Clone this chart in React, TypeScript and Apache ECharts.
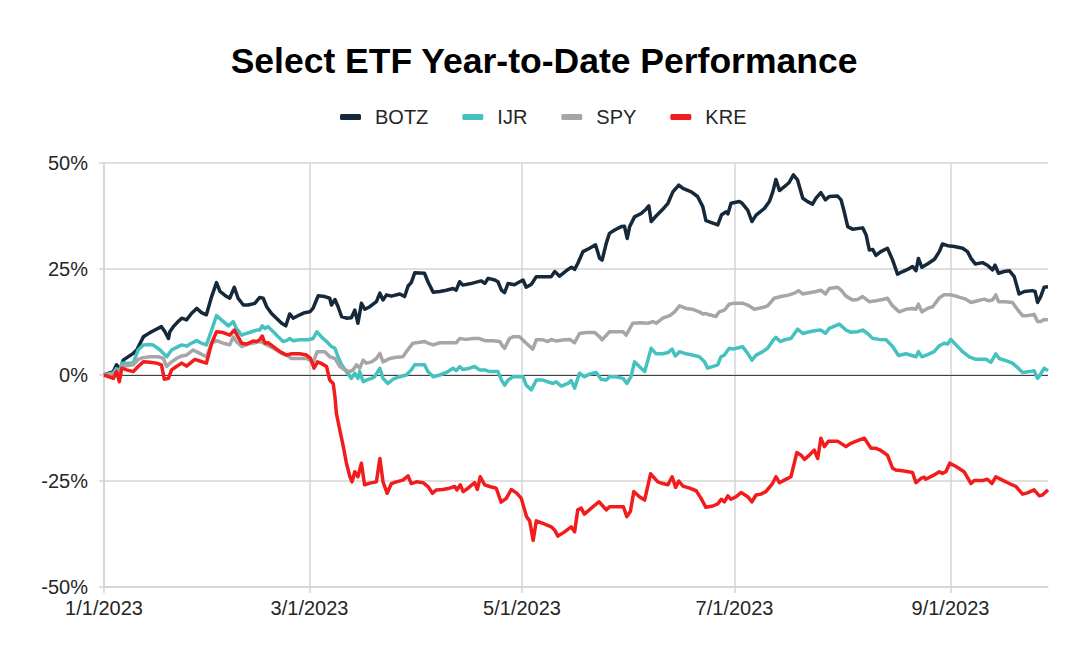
import React, { useEffect, useRef } from "react";
import * as echarts from "echarts";

// Days since 1/1/2023 for each reading, and year-to-date performance (%)
const botzDays = [0,2.7,3.6,4.6,5.5,8.4,9.4,11.3,13.2,14.6,16.5,17.5,18.5,18.9,19.9,21.3,22.3,23.7,25.1,26.6,28.0,29.4,30.9,32.3,33.3,35.2,36.1,37.4,38.5,40.0,41.4,43.3,44.7,45.7,46.7,48.1,49.5,51.0,52.2,53.3,54.3,56.2,57.6,59.1,60.0,61.5,63.4,64.8,65.3,66.3,67.2,68.2,69.6,71.0,72.0,72.9,73.9,74.9,76.3,78.2,79.2,80.1,81.1,82.5,84.9,86.3,87.3,88.2,89.2,92.0,93.0,94.5,96.4,98.3,100.2,101.1,102.1,103.0,105.0,106.9,108.3,109.3,110.3,112.2,113.1,114.1,115.0,116.0,117.8,120.3,121.2,122.7,124.1,128.4,129.4,130.8,133.2,134.2,135.1,136.0,137.5,139.4,141.1,142.3,143.0,144.2,145.1,146.6,148.5,149.4,150.2,150.9,152.3,154.2,155.6,156.4,157.1,158.5,160.2,161.9,163.3,165.0,166.2,168.6,170.4,171.9,172.8,174.8,176.2,177.3,178.6,179.1,180.0,182.4,183.2,184.8,186.0,187.2,189.6,191.0,192.0,192.9,193.9,195.3,196.7,197.9,199.1,200.6,202.0,203.4,204.4,205.8,207.1,208.2,210.6,211.6,212.5,213.5,214.9,217.8,218.8,219.7,220.7,221.6,223.0,224.9,226.4,227.8,229.3,230.7,232.1,233.1,233.8,234.8,236.6,238.4,239.8,240.7,242.2,244.1,246.5,247.9,248.9,250.1,252.2,253.6,255.1,255.8,256.8,258.4,259.9,261.3,262.7,264.2,266.5,267.3,268.0,268.9,269.9,271];
const botzPct = [0,0.8,2.4,1.2,3.5,5.1,5.9,9.0,10.0,10.6,11.4,10.2,8.6,10.2,11.4,12.6,13.4,13.0,14.5,15.7,14.7,14.2,18.5,21.8,19.7,18.5,18.1,20.7,18.1,16.5,16.5,16.9,18.3,18.1,16.1,14.5,13.4,12.2,11.6,14.4,13.4,14.2,14.7,14.9,15.7,18.7,18.5,18.1,16.5,17.8,16.1,13.8,13.4,13.5,15.3,12.2,16.9,15.5,16.1,17.3,19.3,17.7,18.9,18.6,19.1,18.5,21.0,21.8,24.1,24.0,22.0,19.5,19.7,20.0,20.4,20.0,22.0,21.2,21.5,21.9,22.2,21.6,22.8,22.4,22.0,20.0,19.4,21.6,21.3,22.4,20.7,21.4,23.2,23.2,24.4,23.3,24.9,25.4,24.9,26.3,29.1,29.9,30.7,27.5,27.1,31.1,33.4,34.2,35.0,35.1,32.2,35.0,37.3,38.1,39.1,39.9,36.2,37.5,38.9,40.5,43.2,44.8,44.0,43.2,42.1,39.7,36.4,35.8,35.4,37.8,38.5,38.0,40.5,40.9,40.5,38.9,36.2,37.7,39.3,40.9,43.2,46.1,43.5,44.4,45.4,47.2,46.0,41.7,40.9,40.3,41.7,43.0,41.3,42.1,42.2,41.3,38.5,35.0,34.4,34.7,33.0,29.5,29.6,28.2,29.1,29.9,27.1,23.8,24.4,24.9,25.6,24.6,27.5,25.4,26.3,27.3,29.1,30.9,30.5,30.3,29.9,29.1,27.5,26.2,26.5,25.9,24.8,25.9,24.0,24.4,24.6,23.2,19.1,19.7,19.9,19.7,17.1,18.5,20.7,20.8];

const ijrDays = [0,2.7,3.6,4.6,5.1,8.4,9.8,11.3,13.2,14.1,16.1,18.0,19.4,21.3,22.3,23.7,24.7,26.6,28.0,29.4,30.9,32.3,33.7,35.7,37.1,38.0,39.5,40.9,42.4,43.8,44.7,45.4,46.2,47.1,48.6,50.0,51.4,52.4,53.3,54.3,56.2,58.6,60.0,61.1,62.4,63.9,65.3,66.3,67.2,68.2,69.6,71.0,72.0,72.9,73.4,74.4,75.3,76.8,77.7,79.2,80.1,81.5,83.0,84.9,86.8,88.2,89.2,92.0,93.0,94.5,96.4,98.3,100.2,101.1,102.1,103.0,105.0,106.4,107.8,109.3,110.7,113.1,114.1,115.0,116.0,117.4,120.3,121.2,122.7,124.1,126.0,127.4,128.9,129.8,131.3,133.2,134.1,135.1,136.5,137.9,139.4,141.3,142.7,144.2,145.1,147.0,149.0,150.1,151.3,152.3,154.2,155.2,157.1,158.5,160.4,161.9,163.1,164.0,165.2,167.1,169.0,170.9,172.4,173.3,176.2,177.1,178.1,179.5,180.6,182.4,183.3,184.8,186.0,187.2,189.1,190.5,192.0,192.9,194.1,195.8,197.2,199.1,200.6,202.5,204.4,205.8,207.1,208.2,211.1,213.0,214.4,216.3,217.8,219.2,220.7,222.6,224.5,226.4,228.1,230.2,233.1,233.8,234.8,236.9,238.3,239.8,241.2,242.2,243.1,244.6,246.5,248.4,250.3,253.2,254.6,256.0,257.0,258.9,260.8,262.2,263.7,265.6,267.0,268.0,268.9,269.9,271];
const ijrPct = [0,0.5,1.5,1.0,2.8,2.8,5.9,7.1,7.2,7.1,5.9,4.3,5.9,6.7,7.1,6.8,7.3,8.1,7.5,7.1,10.6,14.0,13.0,11.6,12.6,11.0,9.4,9.8,10.2,10.6,10.6,11.6,11.0,11.4,10.2,9.0,7.9,8.1,8.6,8.1,8.3,8.3,8.6,10.2,9.0,7.9,6.7,6.3,4.3,2.4,0.8,-0.8,0.4,-0.8,0.8,-1.6,-1.2,-0.8,-0.4,1.6,-0.8,-2.0,-1.0,-0.4,0,1.2,2.4,2.4,0.8,-0.4,0,0.6,1.6,1.0,2.0,1.3,1.6,2.0,1.2,1.2,0.8,0.8,-1.2,-2.4,-1.2,-0.4,-0.4,-2.4,-3.5,-1.2,-1.2,-1.6,-2.0,-1.6,-2.6,-2.0,-1.3,-3.1,0.4,-0.4,0.2,0.6,-1.0,-1.2,-0.4,-0.4,-0.8,-2.0,-0.4,3.1,1.6,0.8,6.3,5.0,5.0,5.3,6.1,4.5,5.5,5.0,4.7,4.3,3.1,1.6,2.4,4.3,4.7,6.3,6.1,6.5,6.7,5.1,3.5,4.7,5.5,6.3,8.1,8.9,7.9,8.4,8.6,10.8,9.8,10.2,10.5,10.6,9.8,11.0,12.0,10.6,10.1,10.2,10.6,9.8,8.6,8.4,8.3,6.7,4.6,5.0,4.3,5.5,4.3,5.0,5.5,6.9,7.5,7.3,8.4,7.1,5.5,4.3,3.7,3.7,3.0,5.0,3.9,3.4,2.8,1.8,0.6,0.8,1.0,-0.8,0.2,1.6,1.0];

const spyDays = [0,2.7,3.6,4.6,5.1,8.4,9.8,11.3,13.2,15.6,17.0,18.0,19.4,20.8,22.3,23.7,25.6,27.5,29.4,30.9,32.3,34.2,36.1,37.1,38.0,39.5,41.4,43.3,44.7,45.7,46.7,48.6,51.0,52.4,53.8,56.2,58.1,59.1,60.0,61.2,63.4,64.8,66.3,67.7,69.1,70.6,71.5,72.5,73.4,74.4,75.3,76.8,78.2,79.2,80.1,82.0,83.9,85.8,86.8,88.7,90.6,92.1,93.0,94.5,96.4,98.8,101.1,102.1,104.0,105.9,107.8,109.3,111.7,113.6,114.5,115.0,116.4,117.4,119.3,121.2,123.1,124.1,126.0,127.4,128.4,129.8,132.2,133.7,135.1,136.5,138.5,140.9,142.3,143.0,145.1,147.0,149.0,149.9,151.8,154.2,156.1,157.6,158.5,160.4,162.4,163.8,165.2,167.1,169.0,170.9,171.9,172.8,173.8,175.7,176.6,178.1,179.5,180.6,183.4,184.8,186.7,189.1,190.5,192.4,194.4,196.7,198.2,199.4,200.6,202.5,204.4,205.8,207.1,208.2,210.6,211.6,213.0,214.9,216.3,217.8,219.7,221.6,223.5,224.9,226.4,228.3,230.2,232.1,233.1,233.8,234.8,236.4,237.9,239.8,241.2,243.1,245.0,247.4,248.9,250.8,252.7,254.0,255.1,256.0,256.8,258.9,260.8,262.2,263.7,265.1,267.0,268.0,268.9,269.9,271];
const spyPct = [0,0.3,1.0,0.5,2.0,2.4,3.7,4.1,4.3,4.3,3.9,2.0,3.1,3.9,4.5,4.7,5.9,5.1,4.3,7.5,8.1,7.5,7.1,9.0,7.9,6.7,7.3,7.6,7.9,7.6,7.1,6.3,5.1,4.7,3.9,3.9,3.9,3.5,2.8,5.5,5.5,4.3,3.9,2.0,1.2,0.8,1.2,2.4,1.6,3.5,2.8,3.1,3.9,5.1,3.1,3.9,4.2,4.3,5.5,7.5,7.7,7.9,7.5,7.1,7.6,7.6,7.6,8.6,8.4,8.6,8.6,8.1,8.1,7.9,6.7,6.3,8.6,9.0,9.0,7.5,6.1,8.3,8.3,7.9,8.4,8.0,8.3,8.4,7.6,9.8,10.0,10.0,9.0,8.3,10.2,10.2,10.2,9.4,12.2,12.3,12.2,12.6,12.2,13.4,14.0,14.9,16.3,15.7,15.5,14.9,14.4,14.5,14.2,13.8,14.9,15.3,16.7,16.9,16.9,16.5,15.5,15.9,16.3,18.1,18.5,18.9,19.3,19.9,19.1,19.4,19.7,20.0,19.1,20.4,20.7,20.0,18.6,17.7,17.8,18.5,17.3,17.5,17.8,18.1,16.3,14.9,15.5,15.7,15.5,16.7,14.9,15.7,16.1,18.2,18.9,18.9,18.5,17.9,17.1,17.5,17.9,17.5,17.7,18.9,17.3,17.3,17.1,15.5,14.0,14.0,14.3,12.6,12.6,13.1,13.0];

const kreDays = [0,2.7,3.6,4.4,5.1,6.5,8.4,9.8,11.3,13.2,15.1,16.5,17.3,18.5,19.4,20.8,22.3,23.7,26.1,27.5,29.4,30.9,32.3,34.2,36.1,37.4,38.5,39.5,40.9,42.8,43.8,44.7,45.4,46.2,47.1,48.6,50.5,52.4,53.8,56.2,58.1,59.3,60.3,61.3,62.2,63.9,64.8,65.8,66.3,66.7,67.7,68.7,69.6,70.6,71.2,72.0,72.9,73.9,74.8,76.3,78.2,79.2,80.1,81.3,82.5,83.9,85.8,87.3,88.2,89.7,91.6,93.0,94.3,95.4,97.3,99.2,100.7,101.3,102.3,103.1,104.5,106.4,107.2,108.0,109.3,110.7,112.6,114.0,115.5,116.9,118.4,119.8,121.3,122.2,123.2,124.1,126.0,128.4,129.4,130.3,132.2,134.1,135.1,136.0,137.0,137.9,139.9,142.1,144.2,145.1,147.0,149.1,150.1,151.1,152.1,153.7,155.2,156.9,159.0,160.4,161.9,163.1,164.1,165.0,166.2,168.1,170.0,171.4,172.8,174.8,176.2,177.2,178.1,179.1,180.0,181.5,182.9,184.8,186.0,187.2,188.6,190.0,191.9,192.9,193.9,195.3,197.2,198.9,200.1,201.1,202.5,203.9,204.9,205.8,206.8,208.0,210.6,213.0,214.4,216.3,218.3,220.2,221.6,223.0,224.9,226.4,227.3,229.2,232.1,233.1,234.5,235.5,235.9,237.8,239.8,240.7,241.7,242.8,244.6,246.9,248.9,249.8,252.2,253.6,254.9,256.0,257.9,259.9,261.8,263.7,265.1,267.0,268.5,269.4,271];
const krePct = [0,-0.8,0.8,-1.6,1.6,1.2,0.8,2.0,3.1,3.0,2.8,2.4,-1.0,-0.8,1.2,2.0,2.8,2.1,3.7,3.3,2.8,7.5,10.2,10.0,9.4,10.6,9.0,7.5,7.3,8.0,7.9,8.3,9.2,7.5,7.6,6.7,5.5,4.7,5.0,5.0,4.7,3.9,1.6,3.1,2.8,2.0,-1.2,-2.0,-5.1,-9.0,-13.0,-16.9,-20.8,-24.0,-25.2,-22.8,-24.0,-20.8,-25.9,-25.5,-25.2,-19.7,-25.2,-27.9,-25.6,-25.2,-24.8,-23.8,-25.6,-25.2,-25.4,-26.3,-27.9,-27.1,-27.0,-26.7,-26.3,-27.1,-25.9,-27.5,-26.7,-25.4,-27.0,-24.0,-25.9,-26.3,-26.7,-30.0,-29.1,-27.0,-27.8,-29.1,-33.4,-34.4,-39.0,-34.4,-35.0,-35.8,-36.6,-38.0,-37.0,-35.8,-37.0,-31.8,-31.4,-32.8,-31.4,-29.9,-31.8,-31.1,-31.1,-31.1,-33.4,-32.2,-27.5,-28.7,-29.5,-23.3,-25.2,-25.6,-25.9,-24.0,-26.5,-25.0,-26.2,-26.7,-27.3,-29.1,-31.2,-30.9,-30.4,-29.3,-29.9,-28.5,-29.3,-28.7,-27.7,-28.7,-29.9,-28.3,-28.1,-27.5,-25.6,-24.0,-25.4,-24.8,-24.0,-18.3,-18.9,-19.9,-18.9,-17.7,-19.7,-14.9,-16.9,-15.6,-15.6,-16.9,-16.1,-15.5,-14.9,-17.3,-17.3,-17.8,-18.9,-22.0,-22.4,-22.6,-23.0,-25.4,-24.4,-24.1,-24.6,-23.8,-22.8,-23.2,-22.8,-20.8,-21.6,-22.8,-25.6,-24.9,-24.9,-24.6,-25.6,-24.0,-24.8,-25.6,-26.3,-28.1,-27.8,-27.1,-28.5,-28.3,-27.1];

const chartTitle = "Select ETF Year-to-Date Performance";
const seriesNames = ["BOTZ", "IJR", "SPY", "KRE"];
const seriesColors = ["#15293a", "#45c1bf", "#a6a6a6", "#f21c1c"];
const xTickDays = [0, 59, 120, 181, 243]; // 1/1, 3/1, 5/1, 7/1, 9/1
const xMaxDay = 271;
const yMin = -50;
const yMax = 50;
const yStep = 25;

const seriesDays = [botzDays, ijrDays, spyDays, kreDays];
const seriesPct = [botzPct, ijrPct, spyPct, krePct];

function dayToLabel(d: number): string {
  const dt = new Date(Date.UTC(2023, 0, 1) + Math.round(d) * 86400000);
  return `${dt.getUTCMonth() + 1}/${dt.getUTCDate()}/${dt.getUTCFullYear()}`;
}

export default function App() {
  const ref = useRef<HTMLDivElement>(null);
  useEffect(() => {
    document.body.style.margin = "0";
    const chart = echarts.init(ref.current!, null, { renderer: "svg" });
    const font = "Liberation Sans, Arial, sans-serif";
    const series: any[] = seriesNames.map((name, i) => ({
      name,
      type: "line",
      showSymbol: false,
      symbol: "none",
      color: seriesColors[i],
      lineStyle: { width: 3.5, color: seriesColors[i], join: "round" },
      data: seriesDays[i].map((d, j) => [d, seriesPct[i][j]]),
      z: 3 + i,
    }));
    series[0].markLine = {
      silent: true,
      symbol: "none",
      label: { show: false },
      lineStyle: { color: "#404040", width: 1.2, type: "solid" },
      data: [{ yAxis: 0 }],
      z: 2,
    };
    chart.setOption({
      animation: false,
      backgroundColor: "#ffffff",
      title: {
        text: chartTitle,
        left: 544,
        textAlign: "center",
        top: 43,
        padding: 0,
        textStyle: { fontFamily: font, fontSize: 35.5, fontWeight: "bold", color: "#000000" },
      },
      legend: {
        data: seriesNames,
        top: 107,
        left: 340,
        padding: 0,
        icon: "roundRect",
        itemWidth: 21,
        itemHeight: 6,
        itemGap: 34,
        textStyle: { fontFamily: font, fontSize: 20, color: "#262626", padding: [0, 0, 0, 9] },
      },
      grid: { left: 104, right: 20, top: 163, bottom: 64, containLabel: false },
      xAxis: {
        type: "value",
        min: 0,
        max: xMaxDay,
        axisLine: { show: true, onZero: false, lineStyle: { color: "#d4d4d4", width: 1.5 } },
        axisTick: { show: true, length: 6, customValues: xTickDays, lineStyle: { color: "#d4d4d4", width: 1.5 } },
        axisLabel: {
          customValues: xTickDays,
          formatter: (v: number) => dayToLabel(v),
          fontFamily: font,
          fontSize: 20,
          color: "#262626",
          margin: 11,
          showMinLabel: true,
          showMaxLabel: true,
        },
        splitLine: { show: true, lineStyle: { color: "#d4d4d4", width: 1.5 } },
      },
      yAxis: {
        type: "value",
        min: yMin,
        max: yMax,
        interval: yStep,
        axisLine: { show: true, lineStyle: { color: "#d4d4d4", width: 1.5 } },
        axisTick: { show: true, length: 5, lineStyle: { color: "#d4d4d4", width: 1.5 } },
        axisLabel: {
          formatter: (v: number) => `${v}%`,
          fontFamily: font,
          fontSize: 20,
          color: "#262626",
          margin: 16,
        },
        splitLine: { show: true, lineStyle: { color: "#d4d4d4", width: 1.5 } },
      },
      series,
    });
    return () => chart.dispose();
  }, []);
  return <div ref={ref} style={{ width: 1068, height: 651 }} />;
}
